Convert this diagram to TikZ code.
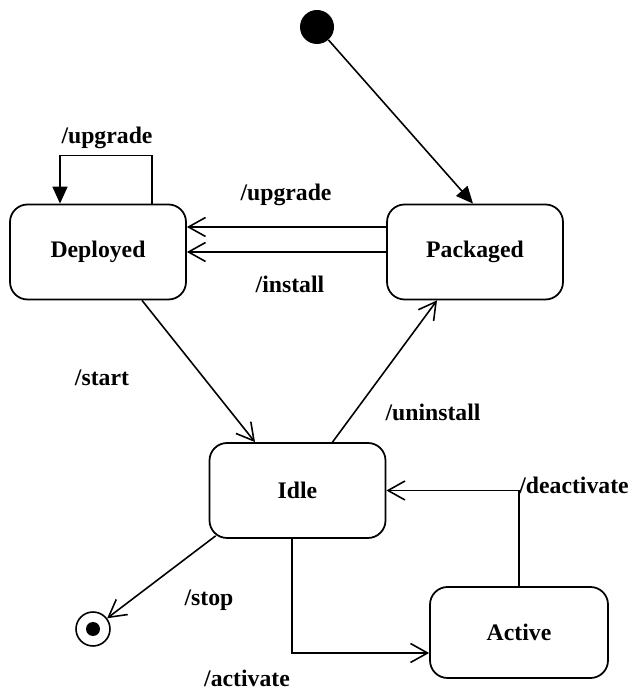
\documentclass[tikz,border=0pt]{standalone}
\usepackage{fontspec}
\setmainfont{Liberation Serif}
\usetikzlibrary{positioning,calc}
\usetikzlibrary{arrows.meta}

\tikzset{
  state/.style={draw, line width=1pt, rounded corners=10pt,
    minimum width=3.52cm, minimum height=1.9cm,
    font=\fontsize{13.5}{16}\selectfont\bfseries},
  lbl/.style={font=\fontsize{13.5}{16}\selectfont\bfseries},
  trans/.style={line width=0.9pt, -{Straight Barb[length=3.4mm,width=3.8mm,line width=0.9pt]}},
  solid arrow/.style={line width=0.9pt, -{Triangle[length=3.4mm,width=3mm]}}
}

\begin{document}
\begin{tikzpicture}
      \useasboundingbox (0,0) rectangle (12.58,13.84);

      % states
      \node[circle, fill, minimum size=6.8mm, inner sep=0pt] (init) at (6.34,13.30) {};
      \node[state] (dep) at (1.96,8.80) {Deployed};
      \node[state] (pack) at (9.50,8.80) {Packaged};
      \node[state] (idle) at (5.95,4.03) {Idle};
      \node[state, minimum width=3.56cm, minimum height=1.82cm] (act) at (10.38,1.19) {Active};
      \node[circle, draw, line width=0.9pt, minimum size=6.8mm, inner sep=0pt] (fin) at (1.86,1.26) {};
      \fill (fin) circle (1.4mm);

      \draw[solid arrow] (init) -- ([xshift=-0.04cm]pack.north);

      % self loop on Deployed
      \draw[solid arrow] ([xshift=1.08cm]dep.north) |- ([xshift=-0.76cm,yshift=0.96cm]dep.north) -- ([xshift=-0.76cm]dep.north);
      \node[lbl] (l1) at (2.14,11.08) {/upgrade};

      \draw[trans] ([yshift=0.5cm]pack.west) -- ([yshift=0.5cm]dep.east);
      \node[lbl] (l2) at (5.72,9.94) {/upgrade};

      \draw[trans] (pack.west) -- (dep.east);
      \node[lbl] (l3) at (5.80,8.16) {/install};

      \draw[trans] ([xshift=0.88cm]dep.south) -- ([xshift=-0.85cm]idle.north);
      \node[lbl] (l4) at (2.04,6.28) {/start};

      \draw[trans] ([xshift=0.7cm]idle.north) -- ([xshift=-0.76cm]pack.south);
      \node[lbl] (l5) at (8.66,5.60) {/uninstall};

      \draw[trans] (act.north) |- (idle.east);
      \node[lbl] (l6) at (11.48,4.14) {/deactivate};

      \draw[trans] ([xshift=-0.11cm]idle.south) |- ([yshift=-0.41cm]act.west);
      \node[lbl] (l7) at (4.94,0.27) {/activate};

      \draw[trans] ([shift={(0.14,0.06)}]idle.south west) -- (fin);
      \node[lbl] (l8) at (4.18,1.84) {/stop};

\end{tikzpicture}
\end{document}
